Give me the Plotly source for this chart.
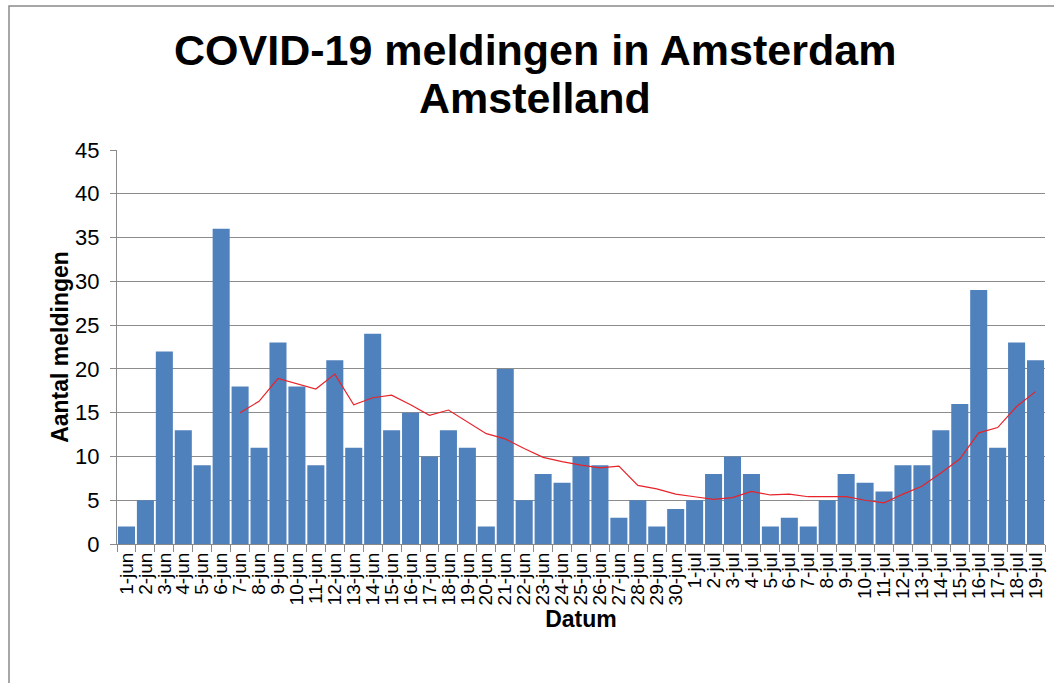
import plotly.graph_objects as go

datums = ([f"{d}-jun" for d in range(1, 31)] + [f"{d}-jul" for d in range(1, 20)])

meldingen = [2, 5, 22, 13, 9, 36, 18, 11, 23, 18, 9, 21, 11, 24, 13, 15, 10, 13, 11, 2,
             20, 5, 8, 7, 10, 9, 3, 5, 2, 4,
             5, 8, 10, 8, 2, 3, 2, 5, 8, 7, 6, 9, 9, 13, 16, 29, 11, 23, 21]

# red trend line (starts at 7-jun)
trend_datums = datums[6:]
trend = [15.0, 16.3, 18.9, 18.3, 17.7, 19.4, 15.9, 16.7, 17.0, 15.9, 14.7, 15.3, 13.9,
         12.6, 12.0, 10.9, 9.9, 9.4, 9.0, 8.7, 8.9, 6.7, 6.3, 5.7, 5.4, 5.1, 5.3, 6.0,
         5.6, 5.7, 5.4, 5.4, 5.4, 5.0, 4.7, 5.7, 6.6, 8.1, 9.7, 12.7, 13.3, 15.7, 17.4]

title_lines = ["COVID-19 meldingen in Amsterdam", "Amstelland"]

W, H = 1054, 683
L, R, T, B = 117, 1045, 150, 544
pw, ph = R - L, B - T

def px(x):
    return (x - L) / pw

def py(y):
    return (B - y) / ph

fig = go.Figure()
fig.add_trace(go.Bar(x=datums, y=meldingen, marker=dict(color="#4F81BD", line=dict(width=0)),
                     showlegend=False))
fig.add_trace(go.Scatter(x=trend_datums, y=trend, mode="lines",
                         line=dict(color="#E8232A", width=1.2), showlegend=False))

font_family = "Liberation Sans, Arial, sans-serif"

annotations = []
for line, ycen in zip(title_lines, [50, 98]):
    annotations.append(dict(text=f"<b>{line}</b>", xref="paper", yref="paper",
                            x=px(535), y=py(ycen), xanchor="center", yanchor="middle",
                            showarrow=False,
                            font=dict(size=43, family=font_family, color="black")))

fig.update_layout(
    width=W, height=H,
    margin=dict(l=L, r=W - R, t=T, b=H - B, autoexpand=False),
    paper_bgcolor="white", plot_bgcolor="white",
    bargap=0.1,
    font=dict(family=font_family, color="black"),
    annotations=annotations,
    xaxis=dict(
        type="category", categoryorder="array", categoryarray=datums,
        range=[-0.5, len(datums) - 0.5],
        tickmode="linear", tick0=0, dtick=1,
        tickangle=-90, tickfont=dict(size=19),
        ticks="outside", tickson="boundaries", ticklen=7, tickcolor="#8a8a8a",
        showline=True, linecolor="#8a8a8a", linewidth=1,
        showgrid=False, automargin=False,
        title=dict(text="<b>Datum</b>", font=dict(size=23), standoff=6),
    ),
    yaxis=dict(
        range=[0, 45], dtick=5, tickfont=dict(size=22),
        ticks="outside", ticklen=6, tickcolor="#8a8a8a", ticklabelstandoff=6,
        showline=True, linecolor="#8a8a8a", linewidth=1,
        showgrid=True, gridcolor="#8c8c8c", gridwidth=1,
        zeroline=False, automargin=False,
        title=dict(text="<b>Aantal meldingen</b>", font=dict(size=23), standoff=0),
    ),
    shapes=[dict(type="rect", xref="paper", yref="paper",
                 x0=px(9), x1=px(1062), y0=py(700), y1=py(6),
                 line=dict(color="#8a8a8a", width=1.5), fillcolor="rgba(0,0,0,0)",
                 layer="below")],
)

fig.write_html("out.html", config={"displayModeBar": False},
               post_script="document.body.style.margin='0';")
